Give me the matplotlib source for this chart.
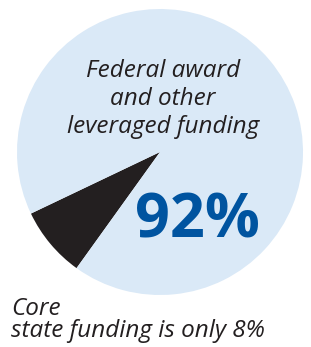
import matplotlib
matplotlib.use("Agg")
import matplotlib.pyplot as plt

labels = ["Core state funding", "Federal award and other leveraged funding"]
values = [8, 92]
colors = ["#231F20", "#DAE9F7"]
big_label = "92%"
top_lines = ["Federal award", "and other", "leveraged funding"]
bottom_lines = ["Core", "state funding is only 8%"]

W, H = 311, 347
fig = plt.figure(figsize=(W / 100, H / 100), dpi=100)
ax = fig.add_axes([0, 0, 1, 1])
ax.pie(values, colors=colors, startangle=205.5, counterclock=True,
       center=(160, H - 152), radius=143,
       wedgeprops=dict(linewidth=0))
ax.set_xlim(0, W)
ax.set_ylim(0, H)
ax.set_aspect("equal")
ax.axis("off")

txt = dict(fontsize=17.5, style="italic", family="Open Sans", color="#231F20")
for line, base in zip(top_lines, [77, 105, 133]):
    ax.text(163, H - base, line, ha="center", va="baseline", **txt)
ax.text(197, H - 238, big_label, ha="center", va="baseline",
        fontsize=44, weight="bold", family="Open Sans", color="#0054A0")
for line, base in zip(bottom_lines, [315, 337]):
    ax.text(11, H - base, line, ha="left", va="baseline", **txt)

fig.savefig("out.png", dpi=100)
